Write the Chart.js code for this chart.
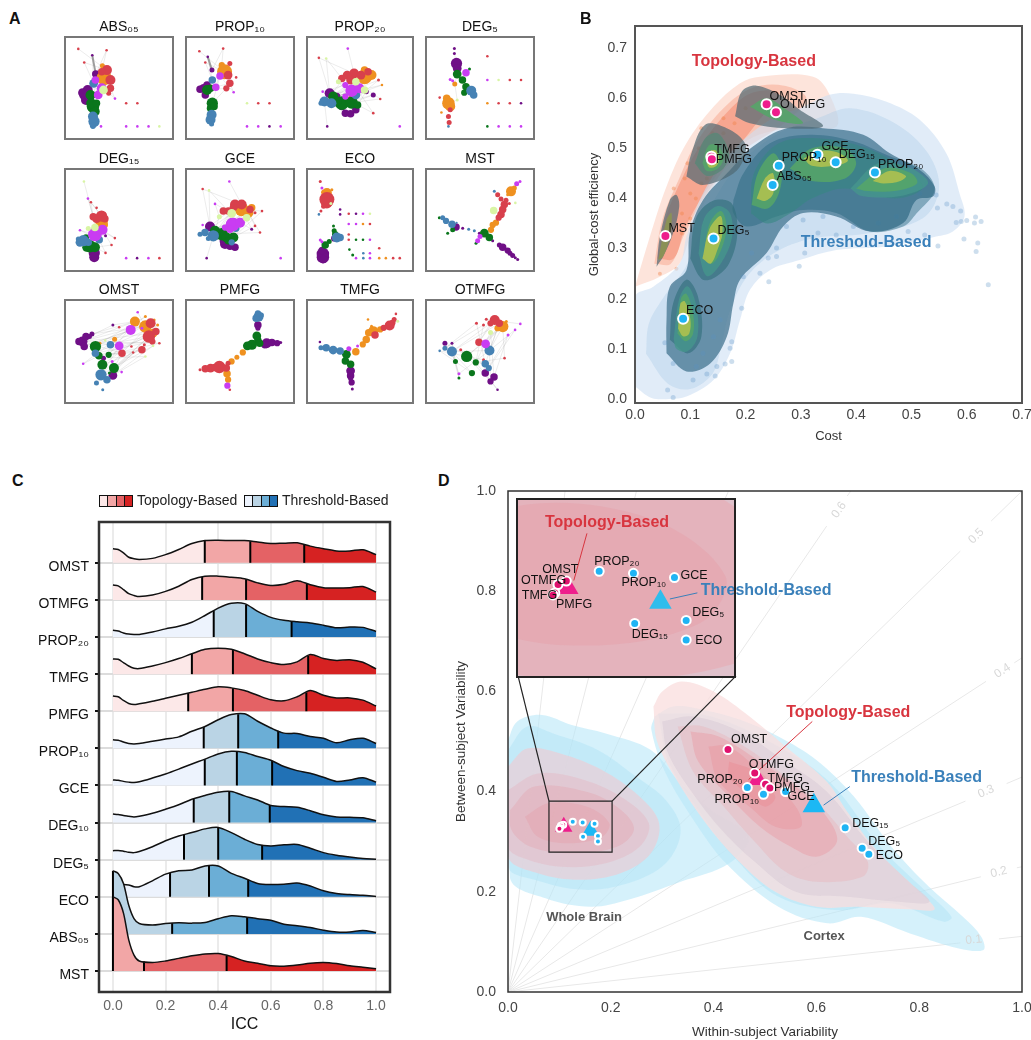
<!DOCTYPE html>
<html>
<head>
<meta charset="utf-8">
<title>Network comparison</title>
<script src="https://cdn.jsdelivr.net/npm/chart.js@4"></script>
<style>
  body { margin: 0; background: #fff; font-family: "Liberation Sans", Arial, sans-serif; }
  #page { position: relative; width: 1031px; height: 1040px; overflow: hidden; }
  canvas { position: absolute; }
  .tag { position: absolute; font-weight: bold; font-size: 16px; color: #111; z-index: 2; }
  .swatch { position: absolute; top: 495px; height: 10px; border: 1.5px solid #111; display: flex; z-index: 2; }
  .swatch span { flex: 1; border-right: 1.5px solid #111; }
  .swatch span:last-child { border-right: 0; }
  .legendText { position: absolute; top: 492px; font-size: 14px; color: #222; z-index: 2; }
</style>
</head>
<body>
<div id="page">
  <div class="tag" style="left:9px;top:10px">A</div>
  <div class="tag" style="left:580px;top:10px">B</div>
  <div class="tag" style="left:12px;top:472px">C</div>
  <div class="tag" style="left:438px;top:472px">D</div>
  <div class="swatch" style="left:99px;width:32px"><span style="background:#fce8e8"></span><span style="background:#f2a6a6"></span><span style="background:#e46265"></span><span style="background:#d62222"></span></div>
  <div class="legendText" style="left:137px">Topology-Based</div>
  <div class="swatch" style="left:244px;width:32px"><span style="background:#edf3fd"></span><span style="background:#bad4e5"></span><span style="background:#6baed6"></span><span style="background:#2171b5"></span></div>
  <div class="legendText" style="left:282px">Threshold-Based</div>
</div>
<script>
// ====== PANEL A DATA: [layout x, layout y, node size, community] ======
const communityColors = ["#6f0f86", "#ef9120", "#d8404c", "#0a761c", "#4682b4", "#c93cf2", "#d9f5a5"];

const absNodes = [[223,146,1.3,2],[240,187,1.3,2],[263,165,1.3,0],[304,150,1.3,2],[273,222,3,0],[292,197,2,1],[305,210,4,2],[290,215,3,2],[315,240,4,2],[315,265,3,2],[310,280,2,2],[297,233,6,1],[267,250,3.5,4],[295,270,3.5,6],[290,265,4,5],[280,285,3.5,5],[272,240,3,5],[240,285,4,0],[250,270,4,0],[245,300,4,0],[255,290,4,0],[235,278,3.5,0],[258,285,4,3],[265,320,5,3],[270,335,4,3],[260,310,4,3],[275,310,3,3],[265,350,4,4],[268,365,4.5,4],[265,378,2.5,4],[288,380,1.3,5],[360,310,1.3,2],[392,310,1.3,2],[360,380,1.3,5],[392,380,1.3,5],[424,380,1.3,5],[455,380,1.3,6],[328,296,1.3,5]];
const absEdges = [0,6,1,12,2,4,3,7,12,15,18,22,13,9,37,16,23,28];
const absThick = [[263,165],[273,222]];

const prop10Nodes = [[568,153,1.3,2],[585,187,1.3,2],[592,170,1.3,0],[636,145,1.3,2],[604,210,2,0],[655,190,2,2],[632,195,2.5,1],[640,215,6,1],[650,225,3.5,2],[655,250,3,2],[645,265,2.5,2],[673,232,1.3,2],[627,228,3,5],[615,262,3,5],[605,240,3,4],[580,265,3.5,0],[570,268,3,0],[590,255,3,0],[585,285,3,0],[590,270,4,3],[600,265,3,3],[605,310,4.5,3],[600,325,3,3],[610,320,3,3],[603,345,4,4],[600,360,4,4],[603,373,2,4],[666,277,1.3,5],[704,310,1.3,6],[736,310,1.3,2],[768,310,1.3,2],[704,380,1.3,5],[736,380,1.3,5],[768,380,1.3,0],[800,380,1.3,5]];
const prop10Edges = [0,7,1,14,2,4,3,6,13,20,9,27,12,21,10,19];
const prop10Thick = [[592,170],[604,210]];

const prop20Nodes = [[992,145,1.3,5],[909,173,1.3,2],[930,175,1.3,6],[1141,380,1.3,5],[933,380,1.3,0],[1010,220,4,2],[990,225,3.5,2],[1030,225,3.5,2],[1050,215,3,2],[975,235,3,2],[1000,240,3.5,2],[1040,230,6,1],[1060,225,4,1],[1040,210,3,1],[1080,240,1.5,2],[1015,245,3,6],[965,245,2,6],[1040,270,3,6],[1003,272,5,5],[1025,265,4,5],[985,255,2.5,5],[985,290,2.5,5],[1010,285,3,1],[1045,275,2,0],[940,280,4,0],[960,290,3,0],[975,320,3,0],[925,305,4,4],[945,310,4,4],[915,310,2,4],[1015,285,3.5,4],[950,290,4,3],[975,310,5.5,3],[1003,308,5,3],[960,305,4,3],[1020,315,3,3],[985,340,3,0],[1000,342,3,0],[1015,330,3,0],[1085,297,1.3,2],[1065,285,2,0],[1000,295,2,1],[1065,340,1.3,2],[1090,255,1.3,1],[920,275,1.3,5]];
const prop20Edges = [0,5,1,24,2,9,-1,4,27,6,39,33,14,29,11,28,43,31,12,32,40,26,17,24,13,10,42,35,16,18,8,25,19,27,7,37,11,34,23,35,44,20];

const deg5Nodes = [[1297,145,1.5,0],[1297,160,1.5,0],[1303,190,4.5,0],[1305,205,3.5,0],[1305,222,3.5,3],[1330,218,3,5],[1340,207,1.5,3],[1320,240,3,3],[1330,260,3,3],[1325,278,2.5,3],[1345,272,4,4],[1352,285,3,4],[1298,252,2,1],[1285,238,1.5,5],[1292,242,1.5,5],[1305,300,1.5,6],[1280,310,5,1],[1285,320,4,1],[1275,295,3,1],[1285,330,2,2],[1255,293,1.3,2],[1260,338,1.3,1],[1280,350,2,2],[1282,368,2,2],[1280,380,1.3,4],[1391,168,1.3,2],[1391,240,1.3,5],[1423,240,1.3,6],[1455,240,1.3,2],[1487,240,1.3,2],[1391,310,1.3,1],[1423,310,1.3,2],[1455,310,1.3,2],[1487,310,1.3,0],[1391,380,1.3,3],[1423,380,1.3,5],[1455,380,1.3,5],[1487,380,1.3,5]];
const deg5Edges = [1,2,3,4,7,8,10,-1,4,12,15,16];

const deg15Nodes = [[72,65,1.3,6],[84,117,1.3,5],[93,128,1.3,2],[110,145,1.3,2],[110,178,3.5,2],[125,170,4.5,2],[100,172,3,2],[135,178,3,2],[125,188,5,1],[135,197,2.5,1],[105,205,3,6],[85,208,2,6],[60,213,1.3,5],[128,212,4,5],[105,226,5.5,5],[78,235,2.5,3],[70,245,4.5,4],[60,250,3.5,4],[118,242,3,4],[85,250,3,4],[55,240,2,4],[90,262,5,3],[105,265,4,3],[80,265,3.5,3],[103,282,4.5,0],[103,295,4,0],[137,230,1.5,0],[165,237,1.3,2],[155,258,1.3,2],[137,282,1.3,2],[199,298,1.3,5],[232,298,1.3,0],[266,298,1.3,5],[299,298,1.3,2]];
const deg15Edges = [0,6,1,5,2,10,27,13,28,22,29,18,12,14,26,8];

const gceNodes = [[508,65,1.3,5],[428,88,1.3,2],[447,92,1.3,6],[465,133,1.3,5],[606,155,1.3,2],[600,220,1.3,2],[575,210,1.5,0],[440,298,1.3,0],[662,298,1.3,5],[525,135,4,2],[545,135,4,2],[505,155,3,2],[490,155,3,2],[570,150,3,2],[520,145,3,2],[545,150,5.5,1],[565,160,4,1],[575,145,3,1],[515,162,3.5,6],[478,172,2,6],[560,175,3,6],[585,160,1.5,2],[518,195,5.5,5],[540,190,4,5],[510,210,3,5],[495,205,2.5,5],[527,207,3,4],[460,230,4.5,4],[435,220,3,4],[420,225,2,4],[445,238,2,4],[515,250,2.5,4],[450,202,4,0],[495,255,4,0],[510,262,3,0],[525,265,3,0],[490,245,3,0],[465,215,4,3],[485,225,5,3],[500,235,4,3],[520,235,4,3],[470,230,3,3],[505,245,3,3],[428,197,1.3,5],[585,200,1.3,2]];
const gceEdges = [0,10,1,32,2,11,3,19,27,14,38,5,16,44,40,4,15,6,23,-1,7,27,-1,34,13,37,20,28,18,33,21,29,14,41,17,30,22];

const ecoNodes = [[780,65,1.5,2],[785,85,1.5,5],[790,98,2,1],[800,100,4,1],[815,90,1.5,1],[800,120,6,2],[800,130,4.5,2],[812,132,1.5,6],[790,140,2,2],[782,155,1.5,2],[776,165,1.3,4],[840,150,1.3,0],[840,165,1.3,0],[866,163,1.3,2],[888,163,1.3,0],[909,163,1.3,5],[930,163,1.3,6],[866,194,1.3,5],[888,194,1.3,5],[909,194,1.3,1],[930,194,1.3,2],[866,226,1.3,2],[866,242,1.3,2],[888,242,1.3,3],[909,242,1.3,3],[930,242,1.3,5],[958,268,1.3,2],[868,272,1.3,3],[878,288,1.5,3],[910,283,1.3,4],[930,283,1.3,5],[888,298,1.3,5],[910,298,1.3,4],[930,298,1.3,5],[958,298,1.3,1],[978,298,1.3,1],[1000,298,1.3,2],[1020,298,1.3,2],[820,200,1.5,3],[822,215,2,3],[825,225,2.5,3],[830,235,4,4],[840,235,3,4],[822,238,2.5,0],[807,247,2,3],[795,258,3,3],[780,243,1.5,5],[785,248,1.5,5],[788,285,5,0],[788,295,5,0],[786,275,3,0],[790,302,3,0]];
const ecoEdges = [];

const mstNodes = [[1382,65,1.5,5],[1372,72,2,5],[1365,85,2,1],[1355,95,4,1],[1345,105,1.5,1],[1340,122,2,2],[1335,135,3,2],[1305,95,1.5,4],[1315,105,2,2],[1325,118,2,2],[1350,132,1.5,2],[1368,130,1.3,6],[1330,150,3,2],[1325,165,3,2],[1303,153,3,6],[1318,175,2.5,2],[1310,190,2.5,1],[1300,197,2.5,1],[1295,212,2.5,1],[1275,222,3.5,3],[1262,232,2,5],[1255,245,2,5],[1250,253,1.5,3],[1290,235,3,3],[1300,245,1.5,0],[1320,258,2,0],[1330,265,3,0],[1345,275,2.5,0],[1360,290,2,0],[1375,302,1.5,0],[1150,175,2,4],[1160,185,2.5,4],[1178,195,3,4],[1190,203,3,0],[1210,207,1.5,0],[1228,210,1.5,4],[1245,215,1.5,4],[1260,222,1.5,0],[1140,175,1.5,3],[1180,212,2,3],[1165,222,1.5,3],[1192,190,1,4],[1352,283,2,0],[1368,297,1.5,0]];
const mstEdges = [];

const omstNodes = [[393,277,1.3,5],[322,315,1.5,0],[340,322,1.3,2],[262,342,2,0],[235,365,4,0],[245,350,3,0],[225,365,3,0],[240,380,3,0],[255,350,2,0],[385,305,4,1],[415,290,1.5,1],[440,300,1.5,1],[450,315,1.5,1],[430,310,4,2],[415,320,5,1],[437,340,3.5,1],[425,350,5,2],[445,335,3,2],[435,365,2.5,2],[373,330,4,5],[405,325,1.5,5],[340,378,3.5,5],[300,362,1.3,6],[272,380,4.5,3],[282,408,3,3],[292,435,4,3],[310,405,2.5,3],[325,445,4,3],[312,460,1.5,3],[272,400,3,4],[315,375,3,4],[288,465,4.5,4],[305,480,3,4],[275,490,2,4],[293,510,1.5,4],[322,467,3.5,0],[295,415,2,0],[327,358,2,1],[285,370,1.5,1],[348,400,3,2],[375,380,1.3,2],[405,390,3,2],[412,375,1.5,2],[320,425,1.5,5],[237,432,1.3,5],[347,457,1.3,5],[380,398,1.3,2],[415,410,1.3,6],[437,378,1.3,6],[455,370,1.3,2]];
const omstEdges = [0,14,3,9,4,13,7,19,23,16,24,41,25,12,29,18,30,11,31,48,35,47,36,15,4,39,27,42,28,16,33,21,38,10,44,24,32,46,26,49,6,1,9,26];

const pmfgNodes = [[737,290,4,4],[730,295,3,4],[745,285,2,4],[735,280,2.5,4],[735,315,3,0],[735,325,2,0],[732,348,3.5,3],[735,362,3,3],[718,375,4,3],[705,378,3.5,3],[740,370,3,3],[760,370,4,0],[775,368,3,0],[790,370,2.5,0],[800,368,1.5,0],[755,375,3,0],[692,398,2.5,1],[675,412,2,1],[660,425,2.5,1],[625,442,5,2],[600,445,3.5,2],[585,447,3,2],[570,450,1.5,2],[645,445,3,2],[650,430,2,2],[647,462,3,1],[650,480,2.5,1],[648,498,2.5,5],[655,510,1.3,2],[612,443,3,2]];
const pmfgEdges = [];

const tmfgNodes = [[1130,283,1.3,2],[1125,300,2,2],[1112,318,4,2],[1095,325,2.5,2],[1135,305,1.5,6],[1065,335,4,1],[1052,340,3,1],[1085,330,2.5,1],[1045,360,3,1],[1035,375,2.5,1],[1070,347,3,2],[1050,300,1.3,1],[1060,320,1.5,1],[1015,397,3,1],[1020,380,1.5,5],[995,388,2,5],[950,392,3.5,4],[930,385,3,4],[915,385,2,4],[970,395,3,4],[912,368,1.3,0],[988,405,3.5,3],[985,425,3,3],[1000,435,3,3],[1000,455,3.5,0],[1000,470,3,0],[1003,490,2.5,0],[1005,510,1.5,0],[1000,478,2,0],[1120,310,2.5,2]];
const tmfgEdges = [];

const otmfgNodes = [[1412,300,4,2],[1400,310,2.5,2],[1425,310,3,2],[1435,320,4.5,1],[1445,305,1.5,1],[1420,325,2.5,1],[1360,310,1.5,2],[1380,315,1.5,2],[1400,338,2,6],[1450,345,1.5,5],[1470,330,1.3,5],[1485,312,1.3,5],[1388,298,1.5,2],[1367,367,3,2],[1386,372,3.5,5],[1397,392,4,4],[1290,395,4,4],[1270,385,2,4],[1255,393,1.3,4],[1315,390,1.5,2],[1270,370,2,0],[1290,370,1.5,0],[1332,410,4.5,3],[1358,428,2.5,3],[1300,425,2,3],[1347,460,2.5,3],[1310,475,1.5,3],[1385,432,3,4],[1395,445,2.5,4],[1385,460,3,0],[1410,472,3,0],[1400,485,2.5,0],[1420,510,1.3,0],[1380,420,1.5,2],[1310,462,1.5,5],[1440,415,1.3,2]];
const otmfgEdges = [0,13,1,16,2,15,3,22,4,14,5,27,6,17,7,23,8,30,9,29,10,15,16,25,18,22,19,28,20,24,21,26,16,34,15,31,22,33,29,32,23,35,3,12,11];

const panelTitles = ["ABS₀₅", "PROP₁₀", "PROP₂₀", "DEG₅", "DEG₁₅", "GCE", "ECO", "MST", "OMST", "PMFG", "TMFG", "OTMFG"];
const panelNodes = [absNodes, prop10Nodes, prop20Nodes, deg5Nodes, deg15Nodes, gceNodes, ecoNodes, mstNodes, omstNodes, pmfgNodes, tmfgNodes, otmfgNodes];
const panelEdges = [absEdges, prop10Edges, prop20Edges, deg5Edges, deg15Edges, gceEdges, ecoEdges, mstEdges, omstEdges, pmfgEdges, tmfgEdges, otmfgEdges];
const panelThick = [absThick, prop10Thick, [], [], [], [], [], [], [], [], [], []];
// layout range of each box
const panelBounds = [[185,494,110,418],[530,838,110,418],[875,1179,110,418],[1216,1524,110,418],[15,340,27,337],[378,702,27,337],[740,1060,27,337],[1100,1424,27,337],[185,494,240,550],[530,838,240,550],[875,1179,241,552],[1216,1524,240,550]];

// ====== PANEL B DATA ======
const costTicks = [0, 0.1, 0.2, 0.3, 0.4, 0.5, 0.6, 0.7];
const efficiencyTicks = [0, 0.1, 0.2, 0.3, 0.4, 0.5, 0.6, 0.7];

const topoGlowOuter = [[0,.224],[.027,.324],[.057,.424],[.093,.51],[.142,.583],[.19,.63],[.226,.643],[.322,.643],[.352,.607],[.364,.543],[.274,.54],[.196,.51],[.142,.424],[.105,.344],[.081,.271],[.045,.244]];
const topoGlowInner = [[.035,.27],[.05,.36],[.08,.44],[.11,.51],[.16,.58],[.21,.62],[.27,.625],[.31,.6],[.27,.55],[.19,.49],[.13,.41],[.09,.33],[.065,.27]];
const topoGlowCore = [[.04,.28],[.055,.36],[.085,.44],[.115,.5],[.165,.57],[.21,.61],[.26,.61],[.22,.55],[.17,.48],[.125,.41],[.09,.34],[.07,.28]];
const threshOuter = [[0,.025],[.03,.002],[.063,0],[.093,.005],[.142,.038],[.172,.091],[.19,.158],[.208,.218],[.244,.257],[.298,.277],[.364,.297],[.455,.304],[.545,.324],[.575,.334],[.596,.364],[.587,.41],[.563,.49],[.515,.557],[.455,.593],[.395,.609],[.352,.607],[.304,.583],[.244,.557],[.172,.49],[.123,.41],[.093,.324],[.081,.271],[.033,.224],[0,.204]];
const threshMid = [[.02,.09],[.06,.03],[.1,.02],[.14,.05],[.155,.1],[.17,.17],[.2,.24],[.25,.29],[.32,.32],[.42,.33],[.52,.36],[.55,.42],[.53,.49],[.47,.55],[.39,.58],[.33,.56],[.26,.53],[.19,.47],[.14,.39],[.11,.31],[.09,.26],[.05,.2],[.025,.15]];
const threshDark = [[.057,.091],[.093,.055],[.136,.071],[.166,.124],[.178,.191],[.19,.238],[.238,.291],[.268,.344],[.304,.371],[.364,.364],[.425,.334],[.485,.351],[.509,.397],[.539,.404],[.542,.424],[.515,.457],[.461,.49],[.413,.527],[.34,.54],[.274,.54],[.214,.504],[.172,.457],[.123,.397],[.099,.331],[.093,.257],[.063,.224],[.057,.158]];
const threshBody = [[.178,.397],[.196,.45],[.244,.51],[.316,.527],[.395,.514],[.461,.484],[.521,.457],[.542,.417],[.509,.37],[.485,.344],[.425,.334],[.364,.371],[.304,.377],[.256,.364],[.202,.344],[.178,.371]];
const bandTeal = [[.21,.37],[.215,.45],[.26,.51],[.33,.52],[.42,.5],[.5,.45],[.52,.42],[.47,.4],[.38,.42],[.32,.4],[.28,.37],[.24,.35]];

const mstKde = [[.039,.264],[.045,.324],[.063,.397],[.075,.407],[.08,.384],[.069,.331],[.051,.284]];
const mstKdeCore = [[.042,.277],[.057,.357],[.066,.371],[.063,.324],[.051,.284]];
const tmfgKde = [[.093,.444],[.102,.49],[.127,.547],[.166,.54],[.199,.51],[.196,.477],[.178,.45],[.123,.427]];
const tmfgKdeMid = [[.108,.47],[.127,.52],[.15,.53],[.17,.49],[.16,.46],[.13,.445]];
const tmfgKdeGreen = [[.122,.47],[.133,.505],[.15,.505],[.16,.48],[.15,.46],[.13,.455]];
const tmfgKdeCore = [[.13,.47],[.137,.495],[.147,.495],[.152,.475],[.145,.463],[.134,.462]];
const omstKde = [[.181,.564],[.193,.613],[.22,.625],[.268,.603],[.298,.577],[.34,.544],[.274,.54],[.208,.55]];
const omstKdeCore = [[.208,.583],[.238,.6],[.274,.577],[.304,.55],[.256,.556]];
const ecoKde = [[.063,.118],[.069,.191],[.093,.238],[.114,.204],[.12,.124],[.096,.091]];
const ecoKdeMid = [[.07,.12],[.08,.2],[.095,.225],[.11,.19],[.113,.125],[.095,.095],[.075,.1]];
const ecoKdeGreen = [[.077,.13],[.083,.2],[.093,.21],[.105,.17],[.105,.13],[.092,.115]];
const ecoKdeCore = [[.078,.14],[.082,.19],[.09,.195],[.1,.16],[.098,.13],[.087,.125]];
const deg5Kde = [[.10,.28],[.11,.36],[.14,.395],[.175,.39],[.185,.33],[.17,.27],[.14,.24],[.12,.24]];
const deg5KdeMid = [[.115,.29],[.125,.36],[.15,.385],[.172,.37],[.175,.32],[.155,.27],[.13,.245]];
const deg5KdeGreen = [[.125,.29],[.135,.35],[.155,.375],[.165,.35],[.16,.31],[.14,.27]];
const deg5KdeCore = [[.122,.28],[.135,.34],[.155,.365],[.158,.33],[.15,.3],[.137,.27]];
const absKdeGreen = [[.211,.387],[.222,.45],[.25,.49],[.265,.46],[.26,.41],[.24,.38]];
const absKdeCore = [[.22,.4],[.235,.44],[.25,.45],[.25,.41],[.235,.395]];
const midKdeGreen = [[.28,.46],[.32,.5],[.38,.5],[.4,.47],[.38,.44],[.32,.435]];
const midKdeCore = [[.305,.48],[.34,.495],[.37,.49],[.385,.475],[.36,.465],[.32,.465]];
const prop20KdeTeal = [[.39,.42],[.44,.47],[.5,.46],[.53,.43],[.48,.405],[.41,.405]];
const prop20KdeGreen = [[.40,.42],[.45,.46],[.5,.45],[.51,.43],[.47,.415],[.42,.415]];
const prop20KdeCore = [[.43,.435],[.46,.455],[.49,.445],[.48,.435],[.45,.43]];

const sampleDotsThreshold = [[.639,.228],[.595,.319],[.617,.294],[.62,.311],[.626,.354],[.614,.351],[.616,.363],[.6,.356],[.59,.354],[.581,.352],[.589,.375],[.575,.384],[.564,.389],[.545,.407],[.547,.381],[.548,.305],[.524,.327],[.494,.334],[.069,.003],[.059,.018],[.105,.038],[.13,.05],[.145,.046],[.148,.065],[.175,.075],[.163,.07],[.111,.065],[.069,.071],[.054,.112],[.175,.114],[.172,.101],[.193,.181],[.242,.234],[.226,.251],[.256,.284],[.241,.281],[.297,.265],[.307,.291],[.331,.331],[.364,.327],[.395,.344],[.44,.351],[.473,.364],[.256,.301],[.211,.291],[.154,.158],[.142,.124],[.123,.091],[.196,.244],[.274,.344],[.304,.357],[.34,.364],[.515,.41],[.527,.43]];
const sampleDotsTopology = [[.12,.43],[.11,.40],[.09,.44],[.13,.44],[.15,.46],[.10,.36],[.085,.37],[.07,.42],[.095,.47],[.115,.5],[.12,.54],[.14,.53],[.16,.56],[.18,.55],[.2,.58],[.16,.53],[.045,.25],[.085,.33],[.1,.41],[.075,.26]];

const topoNames = ["OMST", "OTMFG", "TMFG", "PMFG", "MST"];
const topoCost = [0.238, 0.255, 0.138, 0.139, 0.055];
const topoEfficiency = [0.588, 0.572, 0.483, 0.478, 0.325];
const threshNames = ["ECO", "DEG₅", "ABS₀₅", "PROP₁₀", "GCE", "DEG₁₅", "PROP₂₀"];
const threshCost = [0.087, 0.142, 0.249, 0.26, 0.33, 0.363, 0.434];
const threshEfficiency = [0.16, 0.32, 0.427, 0.465, 0.487, 0.472, 0.452];

// ====== PANEL C DATA ======
const iccTicks = [0, 0.2, 0.4, 0.6, 0.8, 1];
const iccGrid = [0,.02,.04,.06,.08,.1,.15,.2,.25,.3,.35,.4,.45,.5,.55,.6,.65,.7,.75,.8,.85,.9,.95,1];
const rowNames = ["OMST", "OTMFG", "PROP₂₀", "TMFG", "PMFG", "PROP₁₀", "GCE", "DEG₁₀", "DEG₅", "ECO", "ABS₀₅", "MST"];
const rowIsTopology = [true, true, false, true, true, false, false, false, false, false, false, true];

const omstIcc = [.38,.36,.27,.15,.11,.09,.12,.22,.36,.52,.60,.61,.60,.60,.56,.52,.53,.54,.45,.38,.32,.32,.35,.22];
const otmfgIcc = [.40,.38,.28,.17,.12,.09,.13,.23,.37,.55,.64,.64,.61,.57,.46,.39,.42,.52,.41,.33,.32,.33,.36,.21];
const prop20Icc = [.18,.16,.11,.08,.07,.07,.135,.22,.29,.40,.58,.78,.91,.90,.69,.53,.45,.41,.38,.32,.25,.27,.26,.15];
const tmfgIcc = [.41,.40,.31,.22,.16,.15,.22,.31,.42,.55,.67,.70,.67,.55,.41,.31,.26,.33,.53,.42,.37,.39,.32,.14];
const pmfgIcc = [.41,.39,.29,.21,.18,.20,.27,.35,.43,.51,.59,.66,.63,.56,.43,.31,.28,.39,.56,.43,.36,.36,.30,.14];
const prop10Icc = [.23,.22,.17,.13,.12,.13,.19,.25,.31,.46,.59,.77,.91,.93,.73,.55,.41,.40,.32,.27,.15,.23,.27,.13];
const gceIcc = [.15,.14,.11,.09,.08,.10,.20,.31,.44,.58,.71,.85,.92,.89,.78,.68,.51,.40,.33,.22,.11,.15,.21,.09];
const deg10Icc = [.23,.22,.19,.17,.15,.17,.25,.36,.48,.63,.73,.82,.84,.72,.61,.46,.43,.41,.32,.21,.15,.14,.13,.05];
const deg5Icc = [.24,.25,.23,.20,.19,.22,.35,.51,.64,.73,.83,.87,.73,.55,.41,.37,.40,.41,.31,.19,.12,.07,.03,.01];
const ecoIcc = [.30,.32,.33,.32,.27,.27,.43,.61,.70,.72,.83,.83,.63,.50,.36,.33,.34,.37,.29,.16,.09,.06,.04,.01];
const abs05Icc = [1.70,1.63,1.36,.77,.41,.28,.24,.28,.30,.29,.31,.41,.49,.46,.41,.37,.26,.22,.17,.10,.05,.05,.09,.04];
const mstIcc = [2.0,1.92,1.56,.84,.43,.27,.23,.27,.34,.41,.46,.47,.39,.27,.21,.14,.13,.16,.21,.23,.20,.14,.10,.06];
const rowCurves = [omstIcc, otmfgIcc, prop20Icc, tmfgIcc, pmfgIcc, prop10Icc, gceIcc, deg10Icc, deg5Icc, ecoIcc, abs05Icc, mstIcc];

const rowCuts = [[.349,.522,.727],[.339,.506,.737],[.383,.506,.679],[.30,.456,.742],[.286,.456,.735],[.345,.476,.628],[.349,.471,.605],[.307,.442,.596],[.27,.40,.567],[.217,.365,.514],[0,.225,.51],[0,.118,.432]];

const topologyShades = ["#fce8e8", "#f2a6a6", "#e46265", "#d62222"];
const thresholdShades = ["#edf3fd", "#bad4e5", "#6baed6", "#2171b5"];

// ====== PANEL D DATA ======
const withinTicks = [0, 0.2, 0.4, 0.6, 0.8, 1];
const betweenTicks = [0, 0.2, 0.4, 0.6, 0.8, 1];
const iccSpokes = [
  [[0,0],[.88,.098],null,[.955,.106],[1,.111]],
  [[0,0],[.92,.23],null,[.99,.248],[1,.25]],
  [[0,0],[.89,.381],null,[.97,.416],[1,.429]],
  [[0,0],[.93,.62],null,[.985,.657],[1,.667]],
  [[0,0],[.88,.88],null,[.94,.94],[1,1]],
  [[0,0],[.62,.93],null,[.66,.99],[.667,1]],
  [[0,0],[.429,1]],
  [[0,0],[.25,1]],
  [[0,0],[.111,1]]
];
const spokeLabels = ["0.1", "0.2", "0.3", "0.4", "0.5", "0.6"];
const spokeLabelX = [.906, .955, .93, .962, .911, .644];
const spokeLabelY = [.104, .239, .4, .641, .91, .962];

const brainBlueOuter = [[0,.503],[.018,.54],[.066,.553],[.124,.533],[.19,.516],[.278,.483],[.336,.416],[.395,.363],[.468,.31],[.431,.257],[.336,.22],[.234,.184],[.161,.17],[.073,.187],[.004,.227]];
const brainBlueMid = [[0,.483],[.037,.53],[.088,.516],[.175,.483],[.249,.43],[.307,.383],[.336,.323],[.307,.257],[.234,.217],[.146,.204],[.051,.224],[0,.25]];
const brainPink1 = [[0,.45],[.037,.486],[.102,.476],[.183,.443],[.256,.39],[.294,.337],[.278,.277],[.219,.237],[.139,.224],[.058,.237],[0,.27]];
const brainPink2 = [[0,.403],[.058,.436],[.139,.426],[.219,.39],[.274,.337],[.256,.29],[.19,.257],[.102,.25],[.022,.27],[0,.29]];
const brainPink3 = [[.004,.363],[.051,.41],[.161,.397],[.227,.357],[.245,.323],[.212,.29],[.124,.277],[.044,.29],[.007,.323]];
const brainPink4 = [[.033,.35],[.08,.377],[.154,.37],[.197,.337],[.183,.31],[.117,.297],[.058,.31]];

const cortexBlueOuter = [[.285,.55],[.322,.57],[.38,.563],[.453,.543],[.526,.51],[.6,.463],[.673,.39],[.746,.29],[.819,.21],[.885,.15],[.921,.11],[.925,.084],[.877,.087],[.782,.117],[.687,.15],[.621,.137],[.526,.17],[.424,.257],[.365,.337],[.307,.436],[.279,.523]];
const cortexBlueMid = [[.292,.556],[.395,.55],[.526,.49],[.629,.416],[.724,.29],[.811,.203],[.863,.15],[.848,.14],[.746,.177],[.643,.163],[.526,.19],[.439,.27],[.38,.35],[.314,.456]];
const cortexPink0 = [[.283,.57],[.3,.6],[.338,.62],[.4,.6],[.47,.55],[.54,.49],[.62,.42],[.66,.36],[.72,.28],[.8,.2],[.83,.165],[.78,.165],[.68,.17],[.6,.17],[.52,.2],[.45,.26],[.39,.33],[.33,.42],[.29,.5]];
const cortexPink1 = [[.30,.54],[.36,.55],[.45,.52],[.54,.46],[.62,.4],[.7,.3],[.78,.22],[.82,.18],[.76,.18],[.66,.19],[.56,.2],[.48,.26],[.41,.33],[.35,.41],[.31,.48]];
const cortexPink2 = [[.33,.53],[.38,.53],[.46,.49],[.54,.43],[.6,.38],[.66,.31],[.7,.26],[.69,.23],[.6,.22],[.54,.24],[.48,.3],[.42,.37],[.36,.44]];
const cortexPink3 = [[.355,.52],[.41,.51],[.49,.46],[.56,.41],[.62,.35],[.64,.3],[.6,.27],[.55,.29],[.49,.33],[.43,.39],[.37,.46]];
const cortexPink4 = [[.39,.49],[.43,.49],[.5,.43],[.56,.37],[.57,.33],[.52,.33],[.47,.37],[.41,.42]];
const cortexPink5 = [[.43,.46],[.48,.44],[.52,.39],[.5,.37],[.46,.4],[.43,.43]];

const topoCortexX = [.428, .48, .501, .5095];
const topoCortexY = [.484, .437, .4145, .407];
const threshCortexX = [.4656, .497, .54, .656, .689, .702];
const threshCortexY = [.408, .3945, .40, .328, .287, .275];
const topoBrainX = [.1075, .1028, .101, .100];
const topoBrainY = [.334, .332, .3272, .326];
const threshBrainX = [.126, .1453, .1684, .146, .175, .175];
const threshBrainY = [.3396, .3384, .336, .3097, .3114, .3002];
const topoLabelsD = ["OMST", "OTMFG", "TMFG", "PMFG"];
const threshLabelsD = ["PROP₂₀", "PROP₁₀", "GCE", "DEG₁₅", "DEG₅", "ECO"];
const meanTopoCortex = [.486, .424];
const meanThreshCortex = [.595, .372];
const meanTopoBrain = [.1085, .330];
const meanThreshBrain = [.1605, .3218];

// ====== HELPERS ======
const page = document.getElementById("page");
Chart.defaults.font.family = '"Liberation Sans", Arial, sans-serif';
Chart.defaults.animation = false;
Chart.defaults.responsive = false;
Chart.defaults.layout.autoPadding = false;
Chart.defaults.plugins.legend.display = false;
Chart.defaults.plugins.tooltip.enabled = false;

function addCanvas(left, top, width, height) {
  const c = document.createElement("canvas");
  c.width = width;
  c.height = height;
  c.style.left = left + "px";
  c.style.top = top + "px";
  page.appendChild(c);
  return c;
}

function toPoints(list) {
  return list.map(p => (p ? { x: p[0], y: p[1] } : { x: NaN, y: NaN }));
}

let drawOrder = 0;
// later calls sit on top of earlier ones
function nextOrder() { drawOrder -= 1; return drawOrder; }

function blob(list, color) {
  const closed = list.concat([list[0]]);
  return {
    type: "scatter", data: toPoints(closed), showLine: true, fill: "shape", tension: 0.35,
    backgroundColor: color, borderWidth: 0, borderColor: "transparent", pointRadius: 0, order: nextOrder()
  };
}

function stroke(list, color, width) {
  return {
    type: "scatter", data: toPoints(list), showLine: true, fill: false, tension: 0,
    borderColor: color, borderWidth: width, pointRadius: 0, spanGaps: false, order: nextOrder()
  };
}

function dots(xs, ys, color, radius, style, border) {
  return {
    type: "scatter", data: xs.map((x, i) => ({ x, y: ys[i] })), showLine: false,
    backgroundColor: color, borderColor: border || color, borderWidth: border ? 2 : 0,
    pointRadius: radius, pointStyle: style || "circle", order: nextOrder()
  };
}

function framePlugin(color, width) {
  return {
    id: "frame",
    afterDraw(chart) {
      const a = chart.chartArea;
      const ctx = chart.ctx;
      ctx.save();
      ctx.strokeStyle = color;
      ctx.lineWidth = width;
      ctx.strokeRect(a.left, a.top, a.right - a.left, a.bottom - a.top);
      ctx.restore();
    }
  };
}

// text placed with the chart's scales: [text, x, y, dx, dy, font, color, align, angle]
function notesPlugin(notes) {
  return {
    id: "notes",
    afterDatasetsDraw(chart) {
      const ctx = chart.ctx;
      notes.forEach(n => {
        ctx.save();
        ctx.translate(chart.scales.x.getPixelForValue(n[1]) + n[3], chart.scales.y.getPixelForValue(n[2]) + n[4]);
        if (n[8]) ctx.rotate(n[8]);
        ctx.font = n[5];
        ctx.fillStyle = n[6];
        ctx.textAlign = n[7] || "left";
        ctx.textBaseline = "middle";
        ctx.fillText(n[0], 0, 0);
        ctx.restore();
      });
    }
  };
}

function fixedTicks(values) {
  return s => { s.ticks = values.map(v => ({ value: v })); };
}

const plainFont = '12.5px "Liberation Sans"';
const headFont = 'bold 16px "Liberation Sans"';

// ====== PANEL A ======
const colLeft = [[65, 173], [186, 294], [307, 413], [426, 534]];
const rowTop = [[37, 139], [169, 271], [300, 403]];

panelTitles.forEach((title, i) => {
  const [x0, x1] = colLeft[i % 4];
  const [y0, y1] = rowTop[Math.floor(i / 4)];
  const nodes = panelNodes[i];
  const b = panelBounds[i];
  const canvas = addCanvas(x0 - 1, y0 - 20, x1 - x0 + 2, y1 - y0 + 21);

  const edgeLine = [];
  panelEdges[i].forEach(k => {
    edgeLine.push(k >= 0 && nodes[k] ? [nodes[k][0], nodes[k][1]] : null);
  });

  const datasets = [];
  datasets.push(stroke(edgeLine, "rgba(140,140,140,.28)", 0.6));
  if (panelThick[i].length) datasets.push(stroke(panelThick[i], "rgba(130,130,130,.75)", 2));
  communityColors.forEach((color, c) => {
    datasets.push({
      type: "bubble",
      data: nodes.filter(n => n[3] === c).map(n => ({ x: n[0], y: n[1], r: n[2] > 1.5 ? n[2] * 1.25 : n[2] })),
      backgroundColor: color, borderWidth: 0, order: nextOrder()
    });
  });

  new Chart(canvas, {
    type: "bubble",
    data: { datasets },
    plugins: [framePlugin("#777", 2)],
    options: {
      layout: { padding: { left: 1, right: 1, bottom: 1 } },
      plugins: {
        title: { display: true, text: title, color: "#111", font: { size: 14, weight: "normal", lineHeight: 1 }, padding: { top: 3, bottom: 3 } }
      },
      scales: {
        x: { display: false, min: b[0], max: b[1] },
        y: { display: false, min: b[2], max: b[3], reverse: true }
      }
    }
  });
});

// ====== PANEL B ======
const topoFill = "rgba(80,105,115,.7)";
const midFill = "rgba(90,135,120,.85)";
const tealFill = "rgba(70,150,140,.8)";
const greenFill = "rgba(85,165,105,.88)";
const coreFill = "rgba(172,192,80,.92)";

const panelBSets = [
  blob(topoGlowOuter, "rgba(250,195,175,.45)"),
  blob(topoGlowInner, "rgba(245,140,110,.35)"),
  blob(topoGlowCore, "rgba(240,105,75,.35)"),
  dots(sampleDotsTopology.map(p => p[0]), sampleDotsTopology.map(p => p[1]), "rgba(240,130,70,.4)", 2),
  blob(threshOuter, "rgba(205,224,243,.6)"),
  blob(threshMid, "rgba(165,200,230,.35)"),
  blob(threshDark, "rgba(62,112,140,.72)"),
  dots(sampleDotsThreshold.map(p => p[0]), sampleDotsThreshold.map(p => p[1]), "rgba(90,145,195,.3)", 2.5),
  blob(threshBody, "rgba(35,100,125,.45)"),
  blob(bandTeal, "rgba(55,135,130,.6)"),
  blob(mstKde, topoFill), blob(mstKdeCore, "rgba(140,150,80,.85)"),
  blob(tmfgKde, topoFill), blob(tmfgKdeMid, midFill), blob(tmfgKdeGreen, greenFill), blob(tmfgKdeCore, coreFill),
  blob(omstKde, topoFill), blob(omstKdeCore, greenFill),
  blob(ecoKde, "rgba(50,112,125,.65)"), blob(ecoKdeMid, tealFill), blob(ecoKdeGreen, greenFill), blob(ecoKdeCore, coreFill),
  blob(deg5Kde, "rgba(50,112,125,.65)"), blob(deg5KdeMid, tealFill), blob(deg5KdeGreen, greenFill), blob(deg5KdeCore, coreFill),
  blob(absKdeGreen, greenFill), blob(absKdeCore, coreFill),
  blob(midKdeGreen, greenFill), blob(midKdeCore, coreFill),
  blob(prop20KdeTeal, tealFill), blob(prop20KdeGreen, greenFill), blob(prop20KdeCore, coreFill),
  dots(topoCost, topoEfficiency, "#ee1e8c", 5, "circle", "#fff"),
  dots(threshCost, threshEfficiency, "#1fb4f4", 5, "circle", "#fff")
];

const offsetB = { OMST: [3, -8], OTMFG: [4, -8], TMFG: [3, -7], PMFG: [4, 0], MST: [3, -8], ECO: [3, -8], "DEG₅": [4, -8], "ABS₀₅": [4, -8], "PROP₁₀": [3, -8], GCE: [4, -8], "DEG₁₅": [3, -8], "PROP₂₀": [3, -8] };
const notesB = [];
topoNames.forEach((n, i) => notesB.push([n, topoCost[i], topoEfficiency[i], offsetB[n][0], offsetB[n][1], plainFont, "#111"]));
threshNames.forEach((n, i) => notesB.push([n, threshCost[i], threshEfficiency[i], offsetB[n][0], offsetB[n][1], plainFont, "#111"]));
notesB.push(["Topology-Based", 0.215, 0.673, 0, 0, headFont, "#d8353f", "center"]);
notesB.push(["Threshold-Based", 0.418, 0.311, 0, 0, headFont, "#3a80ba", "center"]);

new Chart(addCanvas(587, 2, 435 + 20, 442), {
  type: "scatter",
  data: { datasets: panelBSets },
  plugins: [framePlugin("#555", 2), notesPlugin(notesB)],
  options: {
    layout: { padding: { top: 24, right: 20 } },
    scales: {
      x: {
        type: "linear", min: 0, max: 0.7,
        afterBuildTicks: fixedTicks(costTicks),
        afterFit: s => { s.height = 41; },
        grid: { display: false, drawTicks: false }, border: { display: false },
        ticks: { color: "#444", font: { size: 14 }, padding: 4, maxRotation: 0, autoSkip: false, callback: v => v.toFixed(1) },
        title: { display: true, text: "Cost", color: "#333", font: { size: 13 }, padding: 0 }
      },
      y: {
        type: "linear", min: -0.008, max: 0.744,
        afterBuildTicks: fixedTicks(efficiencyTicks),
        afterFit: s => { s.width = 48; },
        grid: { display: false, drawTicks: false }, border: { display: false },
        ticks: { color: "#444", font: { size: 14 }, padding: 8, autoSkip: false, callback: v => v.toFixed(1) },
        title: { display: true, text: "Global-cost efficiency", color: "#333", font: { size: 13 }, padding: 0 }
      }
    }
  }
});

// ====== PANEL C ======
function heightAt(curve, x) {
  for (let i = 1; i < iccGrid.length; i++) {
    if (x <= iccGrid[i]) {
      const t = (x - iccGrid[i - 1]) / (iccGrid[i] - iccGrid[i - 1]);
      return curve[i - 1] + t * (curve[i] - curve[i - 1]);
    }
  }
  return curve[curve.length - 1];
}

const ridgeSets = [];
rowNames.forEach((name, i) => {
  const base = rowNames.length - 1 - i;
  const curve = rowCurves[i];
  const cuts = rowCuts[i];
  const shades = rowIsTopology[i] ? topologyShades : thresholdShades;
  const edges = [0].concat(cuts, [1]);
  for (let s = 0; s < 4; s++) {
    const a = edges[s], b = edges[s + 1];
    if (b <= a) continue;
    const seg = [{ x: a, y: base + heightAt(curve, a) }];
    iccGrid.forEach((x, k) => { if (x > a && x < b) seg.push({ x, y: base + curve[k] }); });
    seg.push({ x: b, y: base + heightAt(curve, b) });
    ridgeSets.push({
      type: "scatter", data: seg, showLine: true, fill: { value: base }, tension: 0.3,
      backgroundColor: shades[s], borderWidth: 0, pointRadius: 0, order: nextOrder()
    });
  }
  cuts.forEach(q => {
    ridgeSets.push(stroke([[q, base], [q, base + heightAt(curve, q)]], "#000", 2));
  });
  ridgeSets.push({
    type: "scatter", data: iccGrid.map((x, k) => ({ x, y: base + curve[k] })), showLine: true, fill: false,
    tension: 0.3, borderColor: "#111", borderWidth: 1.5, pointRadius: 0, order: nextOrder()
  });
});

new Chart(addCanvas(0, 498, 410, 536), {
  type: "scatter",
  data: { datasets: ridgeSets },
  plugins: [framePlugin("#333", 2.5)],
  options: {
    layout: { padding: { top: 24, right: 20 } },
    scales: {
      x: {
        type: "linear", min: -0.053, max: 1.053,
        afterBuildTicks: fixedTicks(iccTicks),
        afterFit: s => { s.height = 42; },
        grid: { color: "#ebebeb", lineWidth: 2, drawTicks: false }, border: { display: false },
        ticks: { color: "#666", font: { size: 14 }, padding: 6, maxRotation: 0, autoSkip: false, callback: v => v.toFixed(1) },
        title: { display: true, text: "ICC", color: "#111", font: { size: 16 }, padding: 0 }
      },
      y: {
        type: "linear", min: -0.566, max: 12.1,
        afterBuildTicks: fixedTicks([11, 10, 9, 8, 7, 6, 5, 4, 3, 2, 1, 0]),
        afterFit: s => { s.width = 99; },
        grid: { color: "#dcdcdc", lineWidth: 2, tickColor: "#111", tickLength: 4 }, border: { display: false },
        ticks: { color: "#111", font: { size: 14 }, padding: 6, labelOffset: 4, autoSkip: false, callback: v => rowNames[11 - v] }
      }
    }
  }
});

// ====== PANEL D ======
const blueOuter = "rgba(185,232,248,.6)";
const blueMid = "rgba(170,224,244,.4)";
const connector = [[[.0195, .631], [.0797, .381]], [[.4436, .631], [.2025, .381]]];
const sourceBox = [[.0797, .381], [.2025, .381], [.2025, .279], [.0797, .279], [.0797, .381]];

const panelDSets = [];
iccSpokes.forEach(line => panelDSets.push(stroke(line, "#e8e8e8", 1)));
panelDSets.push(
  blob(brainBlueOuter, blueOuter), blob(brainBlueMid, blueMid),
  blob(brainPink1, "rgba(232,208,216,.75)"), blob(brainPink2, "rgba(228,185,195,.45)"),
  blob(brainPink3, "rgba(228,165,175,.4)"), blob(brainPink4, "rgba(228,150,160,.3)"),
  blob(cortexBlueOuter, blueOuter), blob(cortexBlueMid, blueMid),
  blob(cortexPink0, "rgba(250,222,222,.75)"), blob(cortexPink1, "rgba(222,208,218,.75)"),
  blob(cortexPink2, "rgba(232,185,192,.5)"), blob(cortexPink3, "rgba(232,155,165,.45)"),
  blob(cortexPink4, "rgba(232,140,150,.35)"), blob(cortexPink5, "rgba(235,125,135,.3)"),
  stroke(connector[0], "#222", 1.2), stroke(connector[1], "#222", 1.2), stroke(sourceBox, "#222", 1.2),
  stroke([[.592, .54], [.468, .424]], "#d8353f", 1),
  stroke([[.665, .41], [.614, .373]], "#3a80ba", 1),
  dots([meanThreshCortex[0]], [meanThreshCortex[1]], "#1cb8f4", 13, "triangle"),
  dots([meanTopoCortex[0]], [meanTopoCortex[1]], "#ee1e8c", 11, "triangle"),
  dots([meanThreshBrain[0]], [meanThreshBrain[1]], "#1cb8f4", 10, "triangle"),
  dots([meanTopoBrain[0]], [meanTopoBrain[1]], "#ee1e8c", 10, "triangle"),
  dots(topoCortexX, topoCortexY, "#e0126e", 4.5, "circle", "#fff"),
  dots(threshCortexX, threshCortexY, "#1fb4f4", 4.5, "circle", "#fff"),
  dots(topoBrainX, topoBrainY, "#e0126e", 3, "circle", "#fff"),
  dots(threshBrainX, threshBrainY, "#1fb4f4", 3, "circle", "#fff")
);

const offsetD = [[3, -10], [-6, -9], [2, -6], [4, -1]];
const offsetDThresh = [[-50, -8], [-49, 5], [2, 5], [7, -4], [6, -7], [7, 1]];
const notesD = [];
spokeLabels.forEach((t, i) => {
  const angle = [-0.1, -0.24, -0.4, -0.58, -0.78, -0.97][i];
  notesD.push([t, spokeLabelX[i], spokeLabelY[i], 0, 0, '12px "Liberation Sans"', "#d8d8d8", "center", angle]);
});
topoLabelsD.forEach((n, i) => notesD.push([n, topoCortexX[i], topoCortexY[i], offsetD[i][0], offsetD[i][1], plainFont, "#111"]));
threshLabelsD.forEach((n, i) => notesD.push([n, threshCortexX[i], threshCortexY[i], offsetDThresh[i][0], offsetDThresh[i][1], plainFont, "#111"]));
notesD.push(["Topology-Based", .662, .5575, 0, 0, headFont, "#d8353f", "center"]);
notesD.push(["Threshold-Based", .795, .428, 0, 0, headFont, "#3a80ba", "center"]);
notesD.push(["Whole Brain", .148, .148, 0, 0, 'bold 13px "Liberation Sans"', "#555", "center"]);
notesD.push(["Cortex", .615, .11, 0, 0, 'bold 13px "Liberation Sans"', "#555", "center"]);

new Chart(addCanvas(453, 467, 590, 573), {
  type: "scatter",
  data: { datasets: panelDSets },
  plugins: [framePlugin("#333", 1.5), notesPlugin(notesD)],
  options: {
    layout: { padding: { top: 24, right: 21 } },
    scales: {
      x: {
        type: "linear", min: 0, max: 1,
        afterBuildTicks: fixedTicks(withinTicks),
        afterFit: s => { s.height = 48; },
        grid: { display: false, drawTicks: false }, border: { display: false },
        ticks: { color: "#444", font: { size: 14 }, padding: 8, maxRotation: 0, autoSkip: false, callback: v => v.toFixed(1) },
        title: { display: true, text: "Within-subject Variability", color: "#333", font: { size: 13.5 }, padding: 0 }
      },
      y: {
        type: "linear", min: 0, max: 1,
        afterBuildTicks: fixedTicks(betweenTicks),
        afterFit: s => { s.width = 55; },
        grid: { display: false, drawTicks: false }, border: { display: false },
        ticks: { color: "#444", font: { size: 14 }, padding: 12, autoSkip: false, callback: v => v.toFixed(1) },
        title: { display: true, text: "Between-subject Variability", color: "#333", font: { size: 13.5 }, padding: 0 }
      }
    }
  }
});

// ====== PANEL D INSET (same whole-brain values, zoomed) ======
const insetSets = [
  blob(brainBlueOuter, blueOuter), blob(brainBlueMid, blueMid),
  blob(brainPink1, "rgba(225,195,205,.85)"), blob(brainPink2, "rgba(225,185,195,.5)"),
  blob(brainPink3, "rgba(232,170,178,.6)"), blob(brainPink4, "rgba(232,150,158,.3)"),
  stroke([[.1191, .3613], [.1117, .3343]], "#d8353f", 1),
  stroke([[.1813, .3272], [.1658, .3237]], "#3a80ba", 1),
  dots([meanThreshBrain[0]], [meanThreshBrain[1]], "#2fbdec", 13, "triangle"),
  dots([meanTopoBrain[0]], [meanTopoBrain[1]], "#ee1e8c", 12, "triangle"),
  dots(topoBrainX, topoBrainY, "#e0126e", 4.5, "circle", "#fff"),
  dots(threshBrainX, threshBrainY, "#1fb4f4", 4.5, "circle", "#fff")
];
const offsetInsetTopo = [[-24, -11], [-37, -4], [-33, 3], [3, 10]];
const offsetInsetThresh = [[-5, -10], [-12, 9], [6, -2], [-3, 11], [6, -8], [9, 1]];
const notesInset = [];
topoLabelsD.forEach((n, i) => notesInset.push([n, topoBrainX[i], topoBrainY[i], offsetInsetTopo[i][0], offsetInsetTopo[i][1], plainFont, "#111"]));
threshLabelsD.forEach((n, i) => notesInset.push([n, threshBrainX[i], threshBrainY[i], offsetInsetThresh[i][0], offsetInsetThresh[i][1], plainFont, "#111"]));
notesInset.push(["Topology-Based", .1304, .3675, 0, 0, headFont, "#d8353f", "center"]);
notesInset.push(["Threshold-Based", .22, .3286, 0, 0, headFont, "#3a80ba", "center"]);

const insetBackground = {
  id: "insetBackground",
  beforeDraw(chart) {
    const a = chart.chartArea;
    chart.ctx.fillStyle = "#fff";
    chart.ctx.fillRect(a.left, a.top, a.right - a.left, a.bottom - a.top);
  }
};

new Chart(addCanvas(516, 498, 384, 180), {
  type: "scatter",
  data: { datasets: insetSets },
  plugins: [insetBackground, framePlugin("#222", 2), notesPlugin(notesInset)],
  options: {
    layout: { padding: { right: 165, top: 1, bottom: 1, left: 1 } },
    scales: {
      x: { type: "linear", display: false, min: .0797, max: .2025 },
      y: { type: "linear", display: false, min: .279, max: .381 }
    }
  }
});
</script>
</body>
</html>
